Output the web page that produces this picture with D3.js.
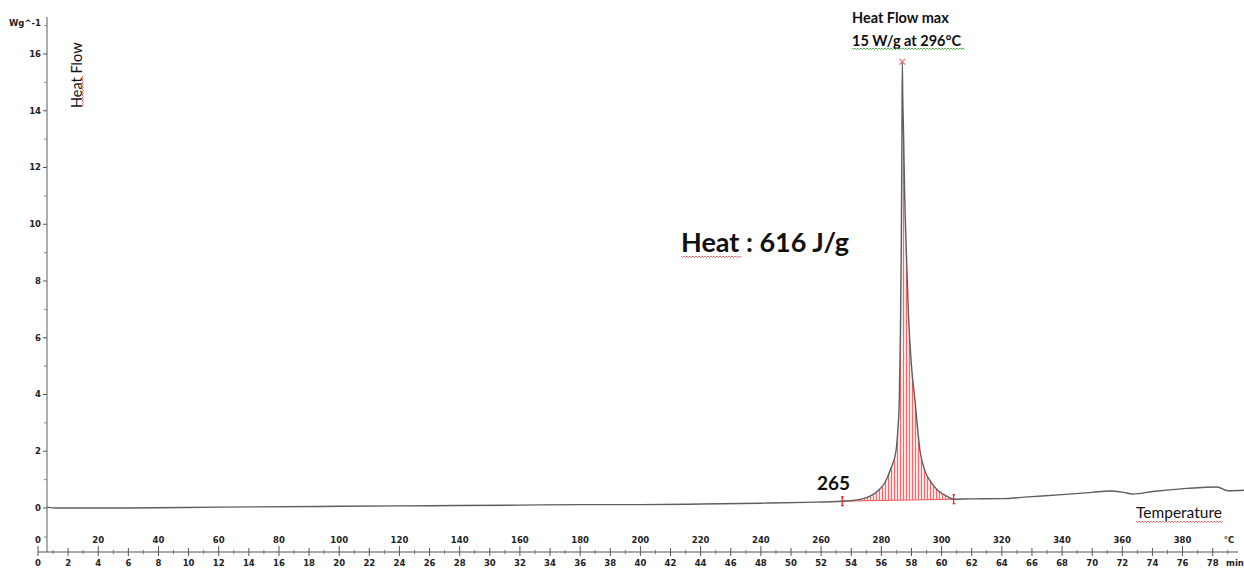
<!DOCTYPE html>
<html>
<head>
<meta charset="utf-8">
<script src="https://cdn.jsdelivr.net/npm/d3@7"></script>
<style>
  html, body { margin: 0; padding: 0; background: #fff; }
  svg { display: block; }
</style>
</head>
<body>
<svg id="chart" width="1244" height="569"></svg>
<script>
// ---- data ----
// heat flow curve: [time (min), heat flow (W/g)]
const curveTime = [0.6, 1.2, 6, 12, 20, 26, 32, 36, 40, 44, 48, 51, 53.4, 54.0, 54.8, 55.25, 55.8, 56.24, 56.6, 56.97, 57.1, 57.19, 57.26, 57.32, 57.36, 57.39, 57.42, 57.47, 57.55, 57.66, 57.8, 58.0, 58.23, 58.57, 58.9, 59.34, 59.8, 60.34, 60.8, 62, 64, 66, 68, 70, 71.2, 72.0, 72.7, 74, 76.3, 78.3, 79.0, 80.2];
const curveValue = [0.03, 0.0, 0.0, 0.03, 0.06, 0.08, 0.1, 0.12, 0.12, 0.14, 0.17, 0.2, 0.24, 0.26, 0.33, 0.42, 0.62, 0.9, 1.35, 2.0, 2.8, 3.8, 6.0, 9.0, 12.5, 15.73, 14.5, 13.3, 11.0, 9.0, 6.8, 5.0, 3.8, 2.0, 1.3, 0.88, 0.6, 0.42, 0.31, 0.32, 0.33, 0.4, 0.47, 0.55, 0.6, 0.56, 0.49, 0.58, 0.69, 0.74, 0.61, 0.63];
// integration limits [time, value]
const integStart = [53.4, 0.24];
const integEnd = [60.8, 0.31];
// peak
const peakPoint = [57.39, 15.73];
// axis ticks
const yTickLabels = [0, 2, 4, 6, 8, 10, 12, 14, 16];
const yMinorTicks = [1, 3, 5, 7, 9, 11, 13, 15, 17];
const timeTickLabels = d3.range(0, 80, 2);
const tempTickLabels = [20, 40, 60, 80, 100, 120, 140, 160, 180, 200, 220, 240, 260, 280, 300, 320, 340, 360, 380];
const tempPerMin = 5;

// ---- scales ----
const svg = d3.select("#chart");
const x = d3.scaleLinear().domain([0, 80]).range([38, 1242.8]);
const y = d3.scaleLinear().domain([0, 16]).range([508, 54]);
const axisX = 47, timeAxisY = 552, tempLabelY = 540;
const tickFont = "'DejaVu Sans', Verdana, sans-serif";
const textFont = "Lato, 'Open Sans', sans-serif";

const data = curveTime.map((t, i) => ({ t, v: curveValue[i] }));

// hatch pattern
const defs = svg.append("defs");
const pat = defs.append("pattern").attr("id", "hatch").attr("patternUnits", "userSpaceOnUse")
  .attr("width", 3).attr("height", 10);
pat.append("rect").attr("width", 3).attr("height", 10).attr("fill", "#ffe6e6");
pat.append("line").attr("x1", 0.5).attr("x2", 0.5).attr("y1", 0).attr("y2", 10)
  .attr("stroke", "#f46a6a").attr("stroke-width", 1);

// ---- y axis ----
svg.append("line").attr("x1", axisX).attr("x2", axisX).attr("y1", 17).attr("y2", timeAxisY)
  .attr("stroke", "#777").attr("stroke-width", 1.2);
svg.selectAll(".ytick").data(yTickLabels).join("line")
  .attr("x1", axisX - 4).attr("x2", axisX).attr("y1", d => y(d)).attr("y2", d => y(d))
  .attr("stroke", "#555");
svg.selectAll(".yminor").data(yMinorTicks).join("line")
  .attr("x1", axisX - 3).attr("x2", axisX).attr("y1", d => y(d)).attr("y2", d => y(d))
  .attr("stroke", "#888");
svg.selectAll(".ylab").data(yTickLabels).join("text")
  .attr("x", axisX - 6).attr("y", d => y(d)).attr("dy", "0.35em")
  .attr("text-anchor", "end").attr("font-family", tickFont).attr("font-weight", "bold")
  .attr("font-size", 8.5).attr("fill", "#222").text(d => d);
svg.append("text").attr("x", axisX - 6).attr("y", y(17)).attr("dy", "0.1em")
  .attr("text-anchor", "end").attr("font-family", tickFont).attr("font-weight", "bold")
  .attr("font-size", 8.5).attr("fill", "#222").text("Wg^-1");

// ---- time axis ----
svg.append("line").attr("x1", x(0)).attr("x2", 1238).attr("y1", timeAxisY).attr("y2", timeAxisY)
  .attr("stroke", "#555").attr("stroke-width", 1.2);
svg.selectAll(".tmaj").data(timeTickLabels).join("line")
  .attr("x1", d => x(d)).attr("x2", d => x(d))
  .attr("y1", d => d % 4 === 0 ? timeAxisY - 6 : timeAxisY - 4).attr("y2", timeAxisY + 4)
  .attr("stroke", "#555");
svg.selectAll(".tmin").data(timeTickLabels.map(d => d + 1)).join("line")
  .attr("x1", d => x(d)).attr("x2", d => x(d))
  .attr("y1", timeAxisY - 2).attr("y2", timeAxisY + 2).attr("stroke", "#777");
svg.selectAll(".tlab").data(timeTickLabels).join("text")
  .attr("x", d => x(d)).attr("y", 563).attr("dy", "0.35em")
  .attr("text-anchor", "middle").attr("font-family", tickFont).attr("font-weight", "bold")
  .attr("font-size", 8.5).attr("fill", "#222").text(d => d);
svg.append("text").attr("x", 1235).attr("y", 563).attr("dy", "0.35em")
  .attr("text-anchor", "middle").attr("font-family", tickFont).attr("font-weight", "bold")
  .attr("font-size", 8.5).attr("fill", "#222").text("min");

// ---- temperature labels ----
svg.selectAll(".templab").data(tempTickLabels).join("text")
  .attr("x", d => x(d / tempPerMin)).attr("y", tempLabelY).attr("dy", "0.35em")
  .attr("text-anchor", "middle").attr("font-family", tickFont).attr("font-weight", "bold")
  .attr("font-size", 8.5).attr("fill", "#222").text(d => d);
svg.append("text").attr("x", x(0)).attr("y", tempLabelY).attr("dy", "0.35em")
  .attr("text-anchor", "middle").attr("font-family", tickFont).attr("font-weight", "bold")
  .attr("font-size", 8.5).attr("fill", "#222").text("0");
svg.append("line").attr("x1", axisX - 3).attr("x2", axisX).attr("y1", tempLabelY - 3).attr("y2", tempLabelY - 3)
  .attr("stroke", "#888");
svg.append("text").attr("x", 1229).attr("y", tempLabelY).attr("dy", "0.35em")
  .attr("text-anchor", "middle").attr("font-family", tickFont).attr("font-weight", "bold")
  .attr("font-size", 8.5).attr("fill", "#222").text("°C");

// ---- integration area ----
const integData = [{ t: integStart[0], v: integStart[1] }]
  .concat(data.filter(d => d.t > integStart[0] && d.t < integEnd[0]))
  .concat([{ t: integEnd[0], v: integEnd[1] }]);
const baseY = d3.scaleLinear().domain([integStart[0], integEnd[0]]).range([integStart[1], integEnd[1]]);
const area = d3.area().x(d => x(d.t)).y0(d => y(baseY(d.t))).y1(d => y(d.v)).curve(d3.curveMonotoneX);
svg.append("path").datum(integData).attr("d", area).attr("fill", "url(#hatch)");
svg.append("line").attr("x1", x(integStart[0])).attr("x2", x(integEnd[0]))
  .attr("y1", y(integStart[1])).attr("y2", y(integEnd[1])).attr("stroke", "#f55").attr("stroke-width", 1);

// ---- curve ----
const line = d3.line().x(d => x(d.t)).y(d => y(d.v)).curve(d3.curveMonotoneX);
svg.append("path").datum(data).attr("d", line).attr("fill", "none")
  .attr("stroke", "#5e5e5e").attr("stroke-width", 1.4);

// integration limit markers
[integStart, integEnd].forEach(p => {
  const px = x(p[0]), py = y(p[1]);
  const g = svg.append("g").attr("stroke", "#e02020").attr("stroke-width", 1.2);
  g.append("line").attr("x1", px).attr("x2", px).attr("y1", py - 4.5).attr("y2", py + 4.5);
  g.append("line").attr("x1", px - 1).attr("x2", px + 1.5).attr("y1", py - 4.5).attr("y2", py - 4.5);
  g.append("line").attr("x1", px - 1).attr("x2", px + 1.5).attr("y1", py + 4.5).attr("y2", py + 4.5);
});

// peak marker
const pkx = x(peakPoint[0]), pky = y(peakPoint[1]);
svg.append("path").attr("d", `M${pkx - 3},${pky - 3}L${pkx + 3},${pky + 3}M${pkx - 3},${pky + 3}L${pkx + 3},${pky - 3}`)
  .attr("stroke", "#f07070").attr("stroke-width", 1.1);

// ---- annotation texts ----
function squiggle(x0, x1, yy, color) {
  let d = `M${x0},${yy}`;
  for (let xx = x0, k = 0; xx < x1; xx += 1.5, k++) d += `L${xx + 1.5},${yy + (k % 2 ? 0 : 1.5)}`;
  svg.append("path").attr("d", d).attr("fill", "none").attr("stroke", color).attr("stroke-width", 0.8);
}
function squiggleV(xx, y0, y1, color) {
  let d = `M${xx},${y0}`;
  for (let yy = y0, k = 0; yy > y1; yy -= 1.5, k++) d += `L${xx + (k % 2 ? 0 : 1.5)},${yy - 1.5}`;
  svg.append("path").attr("d", d).attr("fill", "none").attr("stroke", color).attr("stroke-width", 0.8);
}

svg.append("text").attr("transform", "translate(82,108) rotate(-90)")
  .attr("font-family", textFont).attr("font-size", 14.5).attr("fill", "#111").text("Heat Flow");
squiggleV(82, 107, 76, "#e05050");

svg.append("text").attr("x", 852).attr("y", 23).attr("font-family", textFont).attr("font-weight", "bold")
  .attr("font-size", 14.5).attr("fill", "#111").text("Heat Flow max");
svg.append("text").attr("x", 852).attr("y", 46).attr("font-family", textFont).attr("font-weight", "bold")
  .attr("font-size", 14.5).attr("fill", "#111").text("15 W/g at 296°C");
squiggle(852, 964, 48, "#30a030");

svg.append("text").attr("x", 681).attr("y", 252).attr("font-family", textFont).attr("font-weight", "bold")
  .attr("font-size", 27).attr("fill", "#111").text("Heat : 616 J/g");
squiggle(681, 740, 256, "#e05050");

svg.append("text").attr("x", 817).attr("y", 490).attr("font-family", textFont).attr("font-weight", "bold")
  .attr("font-size", 19).attr("fill", "#111").text("265");

svg.append("text").attr("x", 1136).attr("y", 518).attr("font-family", textFont)
  .attr("font-size", 15.5).attr("fill", "#111").text("Temperature");
squiggle(1136, 1223, 521, "#e05050");
</script>
</body>
</html>
